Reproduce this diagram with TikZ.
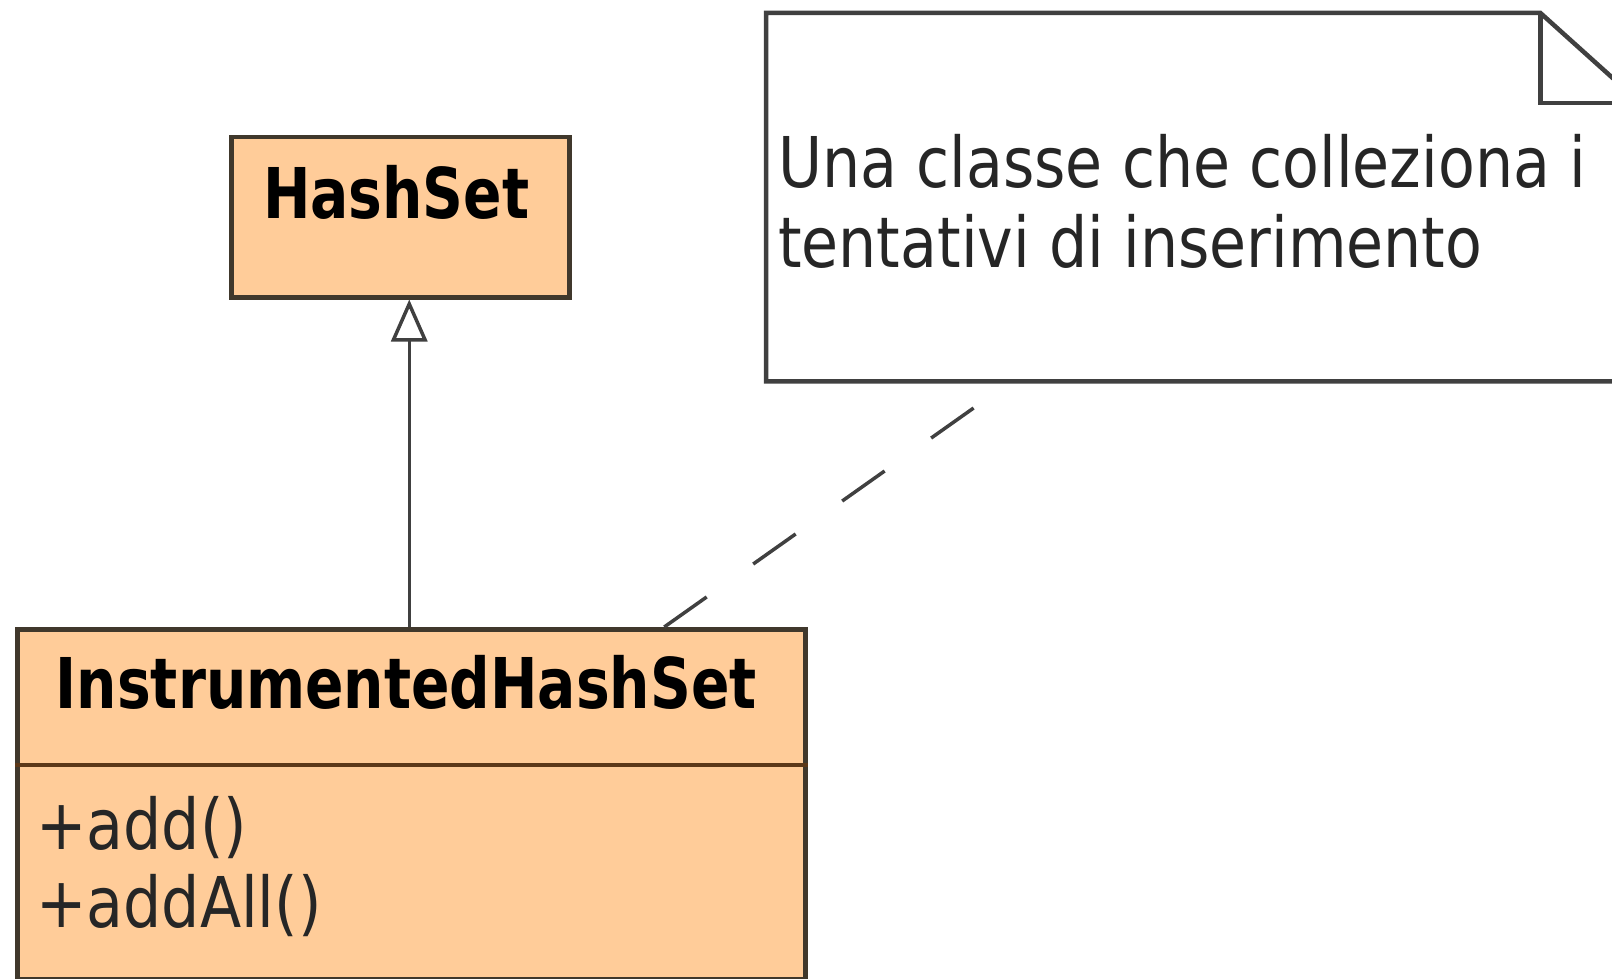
\documentclass[tikz,border=0pt]{standalone}
\usepackage{fontspec}
\setmainfont{DejaVu Sans}
\newfontfamily\umlreg[FakeStretch=0.86]{DejaVu Sans}
\newfontfamily\umlbold[FakeStretch=0.81]{DejaVu Sans Bold}
\usetikzlibrary{arrows.meta,calc}

\definecolor{classfill}{RGB}{255,204,153}
\definecolor{classborder}{RGB}{64,56,44}
\definecolor{divcolor}{RGB}{92,56,24}
\definecolor{linecolor}{RGB}{64,64,64}

\tikzset{
  classbox/.style={draw=classborder, fill=classfill, line width=4.5pt,
    rectangle, inner sep=0pt, anchor=north west},
  notebox/.style={rectangle, inner sep=0pt, anchor=north west},
  notepath/.style={draw=linecolor, line width=4.5pt, line join=miter},
  classname/.style={inner sep=0pt, anchor=base,
    font=\umlbold\fontsize{70}{80}\selectfont, text=black},
  member/.style={inner sep=0pt, anchor=base west,
    font=\umlreg\fontsize{70}{78}\selectfont, text=black!85},
  notetext/.style={inner sep=0pt, anchor=base west,
    font=\umlreg\fontsize{70}{80}\selectfont, text=black!85},
  generalization/.style={draw=linecolor, line width=3.5pt,
    -{Triangle[open, length=42pt, width=36pt]}},
  anchorline/.style={draw=linecolor, line width=3.5pt,
    dash pattern=on 52pt off 57pt}
}

\begin{document}
\begin{tikzpicture}[x=1pt, y=-1pt]
  \useasboundingbox (0,0) rectangle (1612,979);
  \fill[white] (0,0) rectangle (1612,979);
  \clip (0,0) rectangle (1612,979);

  % superclass
  \node[classbox, minimum width=338pt, minimum height=160pt] (hashset) at (229,135) {};
  \node[classname] (hashsetname) at ($(hashset.north)+(-4,83)$) {HashSet};

  % subclass with its operations compartment
  \node[classbox, minimum width=788pt, minimum height=350pt] (ihs) at (15,627) {};
  \node[classname] (ihsname) at ($(ihs.north)+(-5,81)$) {InstrumentedHashSet};
  \draw[divcolor, line width=4.5pt] ($(ihs.north west)+(0,138)$) -- ($(ihs.north east)+(0,138)$);
  \node[member] (opadd) at ($(ihs.north west)+(21,222)$) {+add()};
  \node[member] (opaddall) at ($(ihs.north west)+(21,300)$) {+addAll()};

  % comment note with folded corner
  \node[notebox, minimum width=874pt, minimum height=368pt] (note) at (766,13) {};
  \draw[notepath] (note.north west) -- ($(note.north east)+(-100,0)$)
    -- ($(note.north east)+(0,90)$) -- (note.south east) -- (note.south west) -- cycle;
  \draw[notepath] ($(note.north east)+(-100,0)$) -- ($(note.north east)+(-100,90)$)
    -- ($(note.north east)+(0,90)$);
  \node[notetext] (noteline1) at ($(note.north west)+(12,174)$) {Una classe che colleziona i};
  \node[notetext] (noteline2) at ($(note.north west)+(12,254)$) {tentativi di inserimento};

  % relations
  \draw[generalization] ([xshift=-2pt]ihs.north) -- ([xshift=-2pt]ihs.north |- hashset.south);
  \draw[anchorline] ([xshift=253pt]ihs.north) -- ([xshift=-192pt]note.south);
\end{tikzpicture}
\end{document}
